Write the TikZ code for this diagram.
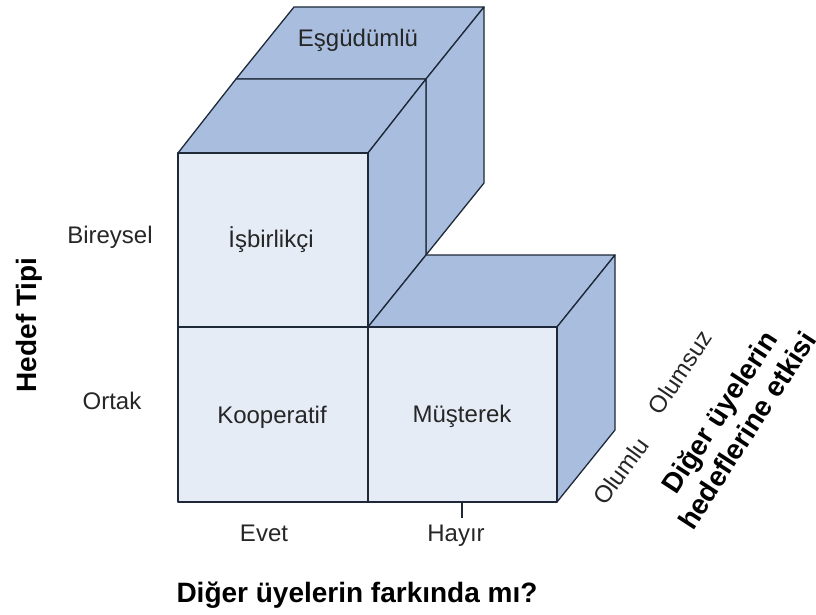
\documentclass[tikz,border=0pt]{standalone}
\usepackage{fontspec}
\setmainfont{Liberation Sans}
\definecolor{frontblue}{HTML}{E6ECF6}
\definecolor{sideblue}{HTML}{A9BEDF}
\definecolor{edge}{HTML}{1E2838}
\definecolor{txt}{HTML}{262626}
\begin{document}
\begin{tikzpicture}[x=1pt,y=-1pt,
  front/.style={fill=frontblue, draw=edge, line width=1.3pt, line join=round},
  side/.style={fill=sideblue, draw=edge, line width=1.3pt, line join=round},
  lbl/.style={font=\fontsize{24}{28}\selectfont, text=txt, inner sep=0pt},
  ttl/.style={font=\fontsize{28}{33}\selectfont\bfseries, text=black, inner sep=0pt}]
\useasboundingbox (0,0) rectangle (816,615);

% back cube (Eşgüdümlü): top and right faces
\draw[side] (236,79) -- (426,79) -- (484,7) -- (294,7) -- cycle;
\draw[side] (426,79) -- (484,7) -- (484,183) -- (426,255) -- cycle;

% upper-left cube (İşbirlikçi)
\draw[side] (178,153) -- (368,153) -- (426,79) -- (236,79) -- cycle;
\draw[side] (368,153) -- (426,79) -- (426,255) -- (368,327) -- cycle;
\draw[front] (178,153) rectangle (368,327);

% lower-right cube (Müşterek)
\draw[side] (368,327) -- (557,327) -- (615,255) -- (426,255) -- cycle;
\draw[side] (557,327) -- (615,255) -- (615,430) -- (557,502) -- cycle;
\draw[front] (368,327) rectangle (557,502);

% lower-left cube (Kooperatif)
\draw[front] (178,327) rectangle (368,502);

% tick under the right column
\coordinate (tickA) at (462,502);
\coordinate (tickB) at (462,518);
\draw[edge, line width=1.3pt] (tickA) -- (tickB);

% cell labels
\node[lbl, anchor=base] (esg) at (358,47) {Eşgüdümlü};
\node[lbl, anchor=base] (isb) at (271,247) {İşbirlikçi};
\node[lbl, anchor=base] (koop) at (272,423) {Kooperatif};
\node[lbl, anchor=base] (must) at (462,422) {Müşterek};

% axis values
\node[lbl, anchor=base] (evet) at (264,541) {Evet};
\node[lbl, anchor=base] (hayir) at (456,541) {Hayır};
\node[lbl, anchor=base] (bir) at (110,243) {Bireysel};
\node[lbl, anchor=base] (ort) at (112,409) {Ortak};
\node[lbl, rotate=54] (olumlu) at (621,471) {Olumlu};
\node[lbl, rotate=56] (olumsuz) at (680,372) {Olumsuz};

% axis titles
\node[ttl, anchor=base] (xt) at (357,602) {Diğer üyelerin farkında mı?};
\node[ttl, anchor=base, rotate=90] (yt) at (36,325) {Hedef Tipi};
\node[ttl, rotate=57, align=center] (zt) at (733,421) {Diğer üyelerin\\hedeflerine etkisi};
\end{tikzpicture}
\end{document}
